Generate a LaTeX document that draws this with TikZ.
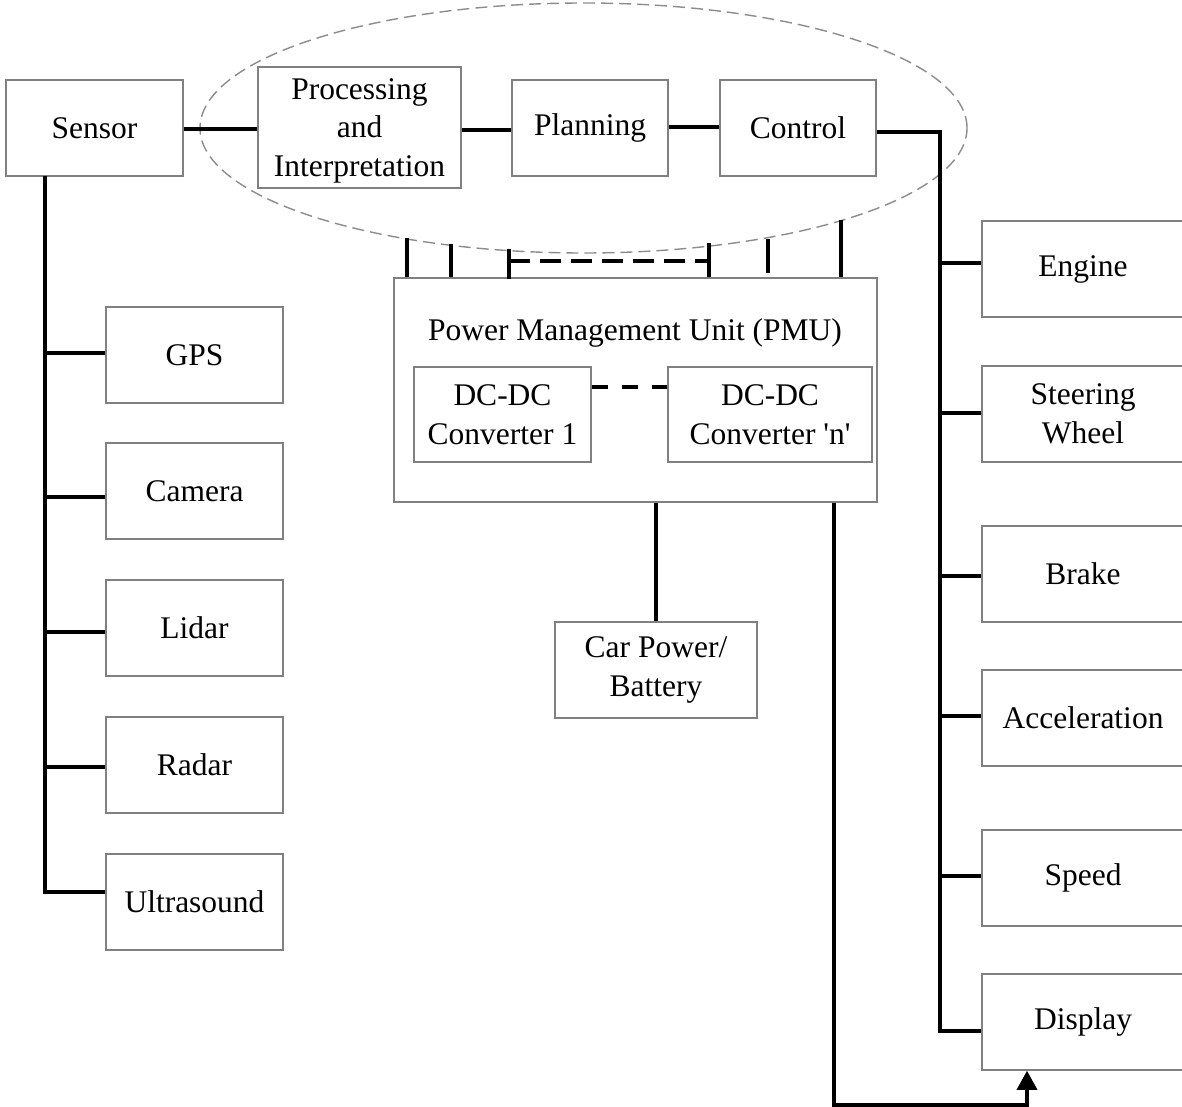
\documentclass[tikz,border=0pt]{standalone}
\usepackage{fontspec}
\newfontfamily\tnr{Liberation Serif}
\usetikzlibrary{arrows.meta}
\definecolor{boxgray}{HTML}{808080}
\definecolor{ellgray}{HTML}{8C8C8C}
\begin{document}
\begin{tikzpicture}[x=1pt,y=-1pt,
  box/.style={draw=boxgray, line width=1.5pt, align=center, inner sep=0pt,
    font=\tnr\fontsize{31.5}{38.5}\selectfont},
  ln/.style={line width=3.3pt, black},
  lbl/.style={inner sep=0pt, align=center, font=\tnr\fontsize{31.5}{38.5}\selectfont},
]
\useasboundingbox (0,0) rectangle (1182,1107);
\clip (0,0) rectangle (1182,1107);
\fill[white] (0,0) rectangle (1182,1107);

% dashed ellipse
\draw[ellgray, line width=1.4pt, dash pattern=on 12pt off 6pt]
  (583.5,128) ellipse [x radius=383.5pt, y radius=125pt];

% top row
\node[box, minimum width=177pt, minimum height=96pt] (sensor) at (94.5,128) {Sensor};
\node[box, minimum width=203pt, minimum height=121pt] (proc) at (359.5,127.5) {};
\node[lbl] (proctext) at ([yshift=-3pt]proc.center) {Processing\\and\\Interpretation};
\node[box, minimum width=156pt, minimum height=96pt] (plan) at (590,128) {Planning};
\node[box, minimum width=156pt, minimum height=96pt] (ctrl) at (798,128) {Control};

% left column
\node[box, minimum width=177pt, minimum height=96pt] (gps) at (194.5,355) {GPS};
\node[box, minimum width=177pt, minimum height=96pt] (cam) at (194.5,491) {Camera};
\node[box, minimum width=177pt, minimum height=96pt] (lidar) at (194.5,628) {Lidar};
\node[box, minimum width=177pt, minimum height=96pt] (radar) at (194.5,765) {Radar};
\node[box, minimum width=177pt, minimum height=96pt] (ultra) at (194.5,902) {Ultrasound};

% right column
\node[box, minimum width=202pt, minimum height=96pt] (engine) at (1083,269) {Engine};
\node[box, minimum width=202pt, minimum height=96pt] (steer) at (1083,414) {Steering\\Wheel};
\node[box, minimum width=202pt, minimum height=96pt] (brake) at (1083,574) {Brake};
\node[box, minimum width=202pt, minimum height=96pt] (accel) at (1083,718) {Acceleration};
\node[box, minimum width=202pt, minimum height=96pt] (speed) at (1083,878) {Speed};
\node[box, minimum width=202pt, minimum height=96pt] (disp) at (1083,1022) {Display};

% PMU
\node[box, minimum width=483pt, minimum height=224pt] (pmu) at (635.5,390) {};
\node[lbl] (pmutitle) at (635,333) {Power Management Unit (PMU)};
\node[box, minimum width=177pt, minimum height=95pt] (dc1) at (502.5,414.5) {DC-DC\\Converter 1};
\node[box, minimum width=204pt, minimum height=95pt] (dcn) at (770,414.5) {DC-DC\\Converter 'n'};
\node[box, minimum width=202pt, minimum height=96pt] (car) at (656,670) {Car Power/\\Battery};

% connectors along the top
\draw[ln] ([yshift=-1pt]sensor.east) -- ([yshift=-1.5pt]proc.west);
\draw[ln] ([yshift=-2.5pt]proc.east) -- ([yshift=-2pt]plan.west);
\draw[ln] ([yshift=1pt]plan.east) -- ([yshift=1pt]ctrl.east -| ctrl.west);

% sensor spine
\coordinate (ls0) at (45,176);
\coordinate (ls1) at (45,353);
\coordinate (ls2) at (45,497);
\coordinate (ls3) at (45,632);
\coordinate (ls4) at (45,767);
\coordinate (ls5) at (45,892);
\draw[ln] (ls0) -- (ls5) -- (ls5 -| ultra.west);
\draw[ln] (ls1) -- (ls1 -| gps.west);
\draw[ln] (ls2) -- (ls2 -| cam.west);
\draw[ln] (ls3) -- (ls3 -| lidar.west);
\draw[ln] (ls4) -- (ls4 -| radar.west);

% control spine
\coordinate (rs0) at (940,132);
\coordinate (rs1) at (940,263);
\coordinate (rs2) at (940,413);
\coordinate (rs3) at (940,576);
\coordinate (rs4) at (940,716);
\coordinate (rs5) at (940,876);
\coordinate (rs6) at (940,1031);
\draw[ln] (rs0 -| ctrl.east) -- (rs0) -- (rs6) -- (rs6 -| disp.west);
\draw[ln] (rs1) -- (rs1 -| engine.west);
\draw[ln] (rs2) -- (rs2 -| steer.west);
\draw[ln] (rs3) -- (rs3 -| brake.west);
\draw[ln] (rs4) -- (rs4 -| accel.west);
\draw[ln] (rs5) -- (rs5 -| speed.west);

% PMU supply ticks
\coordinate (t1) at (407,238);
\coordinate (t2) at (451,244);
\coordinate (t3) at (509,249);
\coordinate (t4) at (709,243);
\coordinate (t5) at (768,239);
\coordinate (t6) at (841,220);
\coordinate (h1) at (509,261);
\coordinate (h2) at (709,261);
\draw[ln] (t1) -- (t1 |- pmu.north);
\draw[ln] (t2) -- (t2 |- pmu.north);
\draw[ln] (t3) -- ([yshift=-2pt]t3 |- pmu.north);
\draw[ln] (t4) -- (t4 |- pmu.north);
\draw[ln] (t5) -- ([yshift=4pt]t5 |- pmu.north);
\draw[ln] (t6) -- (t6 |- pmu.north);
\draw[ln, dash pattern=on 21pt off 10pt] (h1) -- (h2);

% converters dashed link
\draw[ln, dash pattern=on 16pt off 14pt] ([yshift=27.5pt]dc1.east) -- ([yshift=27.5pt]dcn.west);

% PMU to battery
\draw[ln] (pmu.south -| car.north) -- (car.north);

% PMU to display arrow
\coordinate (a1) at (834,1105);
\coordinate (a2) at (1027,1105);
\draw[ln, -{Triangle[length=19pt, width=20pt]}] (a1 |- pmu.south) -- (a1) -- (a2) -- (a2 |- disp.south);
\end{tikzpicture}
\end{document}
